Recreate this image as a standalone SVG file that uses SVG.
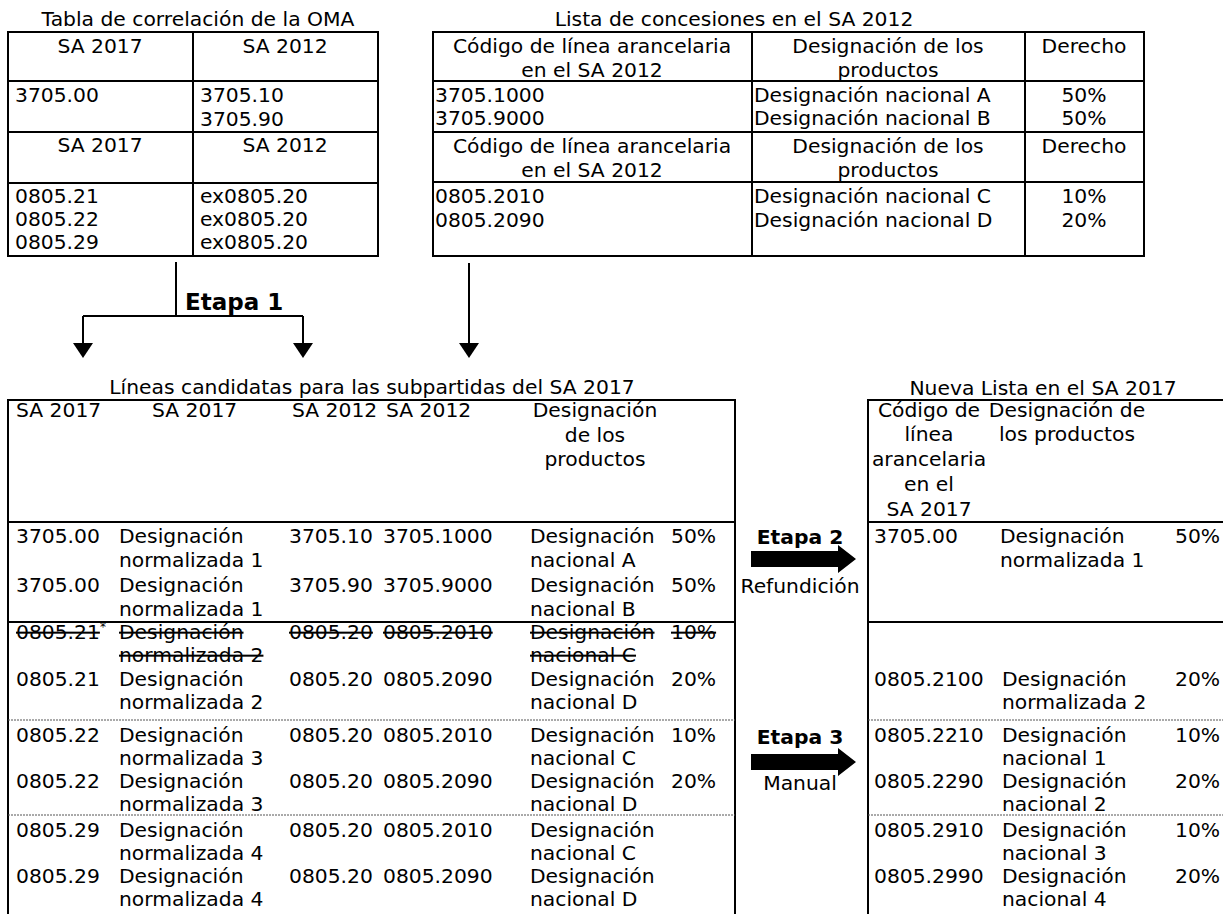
<svg xmlns="http://www.w3.org/2000/svg" width="1223" height="914" viewBox="0 0 1223 914">
<style>
text{font-family:"DejaVu Sans",Verdana,sans-serif;font-size:20.3px;fill:#000}
.c{text-anchor:middle}
.b{font-weight:bold}
.s{text-decoration:line-through}
.ln{stroke:#000;stroke-width:2;fill:none}
.d{stroke:#555;stroke-width:1;stroke-dasharray:2 1;fill:none}
.sup{font-size:12px}
.ah{fill:#000}
</style>
<rect width="1223" height="914" fill="#fff"/>

<g id="oma-table">
<text class="c" x="198" y="26">Tabla de correlación de la OMA</text>
<rect class="ln" x="8" y="32" width="370" height="224"/>
<path class="ln" d="M193,32V256M8,81H378M8,132H378M8,183H378"/>
<text class="c" x="100" y="53">SA 2017</text>
<text class="c" x="285" y="53">SA 2012</text>
<text x="15" y="102">3705.00</text>
<text x="200" y="102">3705.10</text>
<text x="200" y="126">3705.90</text>
<text class="c" x="100" y="152">SA 2017</text>
<text class="c" x="285" y="152">SA 2012</text>
<text x="15" y="203">0805.21</text>
<text x="15" y="226">0805.22</text>
<text x="15" y="249">0805.29</text>
<text x="200" y="203">ex0805.20</text>
<text x="200" y="226">ex0805.20</text>
<text x="200" y="249">ex0805.20</text>
</g>

<g id="concessions-table">
<text class="c" x="734" y="26">Lista de concesiones en el SA 2012</text>
<rect class="ln" x="433" y="32" width="711" height="224"/>
<path class="ln" d="M752,32V256M1025,32V256M433,81H1144M433,132H1144M433,182H1144"/>
<text class="c" x="592" y="53">Código de línea arancelaria</text>
<text class="c" x="592" y="77">en el SA 2012</text>
<text class="c" x="888" y="53">Designación de los</text>
<text class="c" x="888" y="77">productos</text>
<text class="c" x="1084" y="53">Derecho</text>
<text x="435" y="102">3705.1000</text>
<text x="435" y="125">3705.9000</text>
<text x="754" y="102">Designación nacional A</text>
<text x="754" y="125">Designación nacional B</text>
<text class="c" x="1084" y="102">50%</text>
<text class="c" x="1084" y="125">50%</text>
<text class="c" x="592" y="153">Código de línea arancelaria</text>
<text class="c" x="592" y="177">en el SA 2012</text>
<text class="c" x="888" y="153">Designación de los</text>
<text class="c" x="888" y="177">productos</text>
<text class="c" x="1084" y="153">Derecho</text>
<text x="435" y="203">0805.2010</text>
<text x="435" y="227">0805.2090</text>
<text x="754" y="203">Designación nacional C</text>
<text x="754" y="227">Designación nacional D</text>
<text class="c" x="1084" y="203">10%</text>
<text class="c" x="1084" y="227">20%</text>
</g>

<g id="connectors">
<path class="ln" d="M176,262V316M83,316H303M83,316V344M303,316V344M469,263V344"/>
<polygon class="ah" points="73,343 93,343 83,358"/>
<polygon class="ah" points="293,343 313,343 303,358"/>
<polygon class="ah" points="459,343 479,343 469,358"/>
<text class="b" x="185" y="310" style="font-size:23px">Etapa 1</text>
</g>

<g id="candidate-lines">
<text class="c" x="372" y="394">Líneas candidatas para las subpartidas del SA 2017</text>
<path class="ln" d="M8,914V400H735V914M8,522H735M8,622H735"/>
<path class="d" d="M8,720H735M8,815H735"/>
<text x="16" y="417">SA 2017</text>
<text x="152" y="417">SA 2017</text>
<text x="292" y="417">SA 2012</text>
<text x="386" y="417">SA 2012</text>
<text class="c" x="595" y="417">Designación</text>
<text class="c" x="595" y="442">de los</text>
<text class="c" x="595" y="466">productos</text>

<text x="16" y="543">3705.00</text>
<text x="119" y="543">Designación</text>
<text x="119" y="567">normalizada 1</text>
<text x="289" y="543">3705.10</text>
<text x="383" y="543">3705.1000</text>
<text x="530" y="543">Designación</text>
<text x="530" y="567">nacional A</text>
<text x="671" y="543">50%</text>
<text x="16" y="592">3705.00</text>
<text x="119" y="592">Designación</text>
<text x="119" y="616">normalizada 1</text>
<text x="289" y="592">3705.90</text>
<text x="383" y="592">3705.9000</text>
<text x="530" y="592">Designación</text>
<text x="530" y="616">nacional B</text>
<text x="671" y="592">50%</text>

<text x="16" y="639"><tspan class="s">0805.21</tspan><tspan class="sup" dy="-8">*</tspan></text>
<text class="s" x="119" y="639">Designación</text>
<text class="s" x="119" y="662">normalizada 2</text>
<text class="s" x="289" y="639">0805.20</text>
<text class="s" x="383" y="639">0805.2010</text>
<text class="s" x="530" y="639">Designación</text>
<text class="s" x="530" y="662">nacional C</text>
<text class="s" x="671" y="639">10%</text>
<text x="16" y="686">0805.21</text>
<text x="119" y="686">Designación</text>
<text x="119" y="709">normalizada 2</text>
<text x="289" y="686">0805.20</text>
<text x="383" y="686">0805.2090</text>
<text x="530" y="686">Designación</text>
<text x="530" y="709">nacional D</text>
<text x="671" y="686">20%</text>

<text x="16" y="742">0805.22</text>
<text x="119" y="742">Designación</text>
<text x="119" y="765">normalizada 3</text>
<text x="289" y="742">0805.20</text>
<text x="383" y="742">0805.2010</text>
<text x="530" y="742">Designación</text>
<text x="530" y="765">nacional C</text>
<text x="671" y="742">10%</text>
<text x="16" y="788">0805.22</text>
<text x="119" y="788">Designación</text>
<text x="119" y="811">normalizada 3</text>
<text x="289" y="788">0805.20</text>
<text x="383" y="788">0805.2090</text>
<text x="530" y="788">Designación</text>
<text x="530" y="811">nacional D</text>
<text x="671" y="788">20%</text>

<text x="16" y="837">0805.29</text>
<text x="119" y="837">Designación</text>
<text x="119" y="860">normalizada 4</text>
<text x="289" y="837">0805.20</text>
<text x="383" y="837">0805.2010</text>
<text x="530" y="837">Designación</text>
<text x="530" y="860">nacional C</text>
<text x="16" y="883">0805.29</text>
<text x="119" y="883">Designación</text>
<text x="119" y="906">normalizada 4</text>
<text x="289" y="883">0805.20</text>
<text x="383" y="883">0805.2090</text>
<text x="530" y="883">Designación</text>
<text x="530" y="906">nacional D</text>
</g>

<g id="stage2">
<text class="b c" x="800" y="544">Etapa 2</text>
<path d="M751,551H838V545L856,559L838,573V567H751Z" fill="#000"/>
<text class="c" x="800" y="593">Refundición</text>
</g>

<g id="stage3">
<text class="b c" x="800" y="744">Etapa 3</text>
<path d="M751,754H838V748L856,762L838,776V770H751Z" fill="#000"/>
<text class="c" x="800" y="790">Manual</text>
</g>

<g id="new-list">
<text class="c" x="1043" y="395">Nueva Lista en el SA 2017</text>
<path class="ln" d="M868,914V400H1223M868,522H1223M868,622H1223"/>
<path class="d" d="M868,720H1223M868,815H1223"/>
<text class="c" x="929" y="417">Código de</text>
<text class="c" x="929" y="441">línea</text>
<text class="c" x="929" y="466">arancelaria</text>
<text class="c" x="929" y="491">en el</text>
<text class="c" x="929" y="516">SA 2017</text>
<text class="c" x="1067" y="417">Designación de</text>
<text class="c" x="1067" y="441">los productos</text>

<text x="874" y="543">3705.00</text>
<text x="1000" y="543">Designación</text>
<text x="1000" y="567">normalizada 1</text>
<text x="1175" y="543">50%</text>

<text x="874" y="686">0805.2100</text>
<text x="1002" y="686">Designación</text>
<text x="1002" y="709">normalizada 2</text>
<text x="1175" y="686">20%</text>

<text x="874" y="742">0805.2210</text>
<text x="1002" y="742">Designación</text>
<text x="1002" y="765">nacional 1</text>
<text x="1175" y="742">10%</text>
<text x="874" y="788">0805.2290</text>
<text x="1002" y="788">Designación</text>
<text x="1002" y="811">nacional 2</text>
<text x="1175" y="788">20%</text>

<text x="874" y="837">0805.2910</text>
<text x="1002" y="837">Designación</text>
<text x="1002" y="860">nacional 3</text>
<text x="1175" y="837">10%</text>
<text x="874" y="883">0805.2990</text>
<text x="1002" y="883">Designación</text>
<text x="1002" y="906">nacional 4</text>
<text x="1175" y="883">20%</text>
</g>
</svg>
